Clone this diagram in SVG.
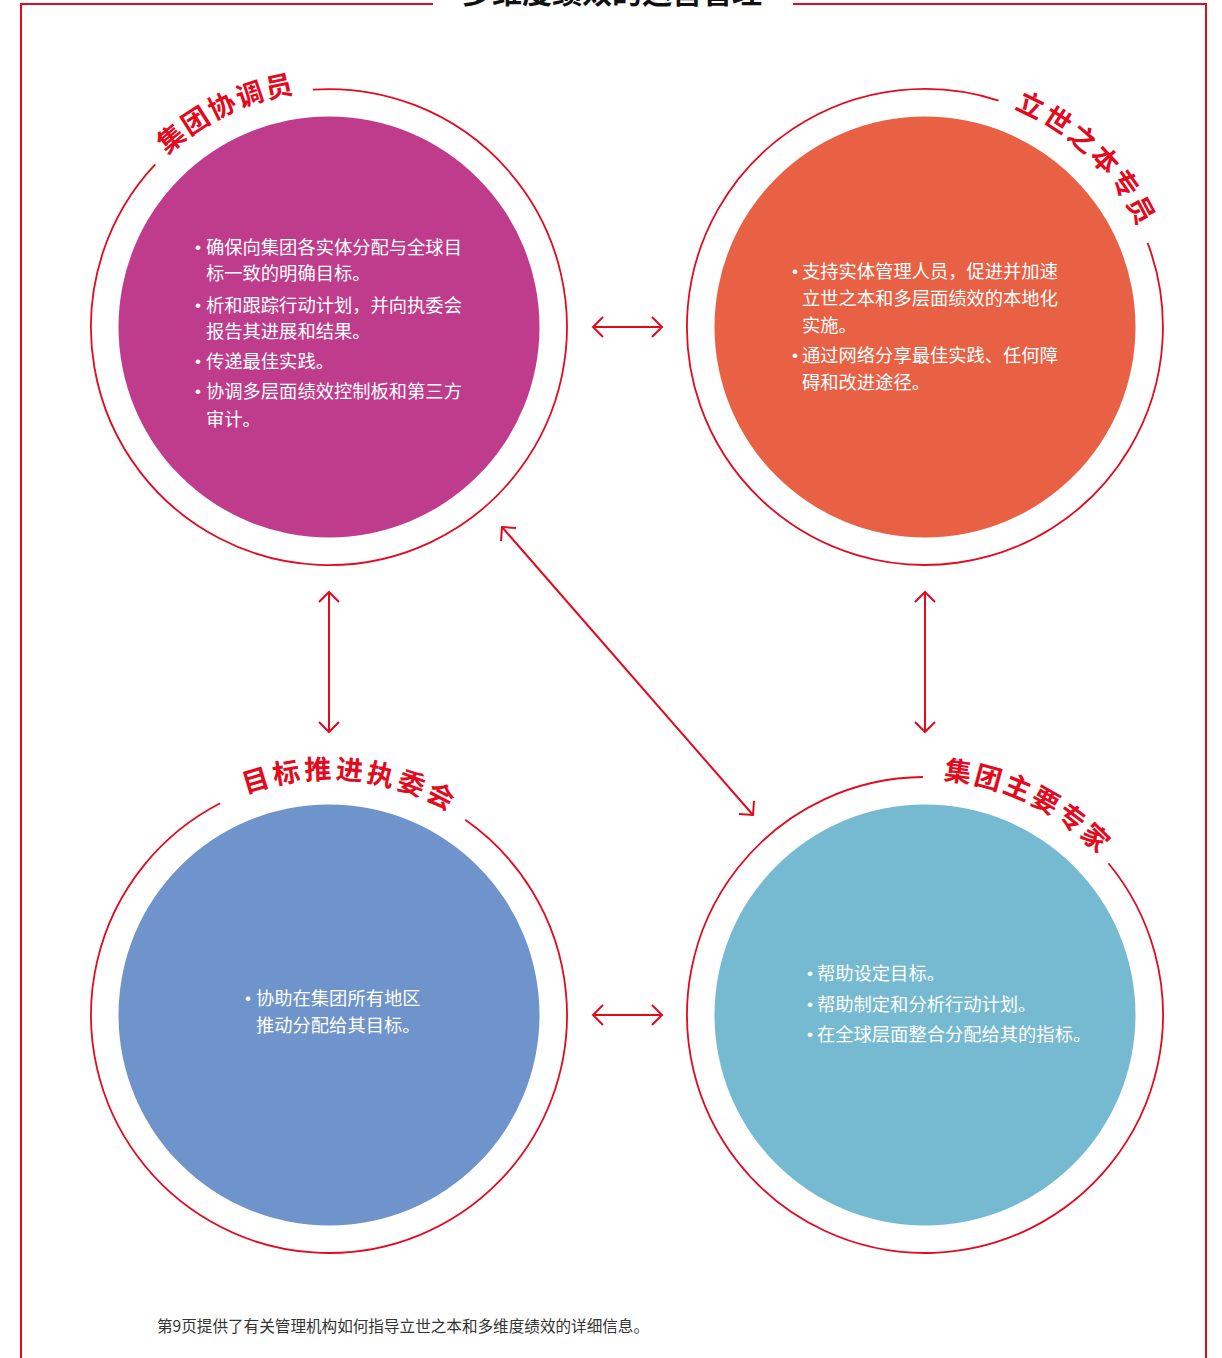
<svg xmlns="http://www.w3.org/2000/svg" width="1222" height="1358" viewBox="0 0 1222 1358">
  <style>
    .frame { stroke: #E30A1E; stroke-width: 2; fill: none; }
    .ring { stroke: #E30A1E; stroke-width: 1.8; fill: none; }
    .conn { stroke: #E30A1E; stroke-width: 2; fill: none; }
    .label { font-family: "Noto Sans CJK SC", "Noto Sans", sans-serif; font-weight: bold; font-size: 27px; fill: #E30A1E; }
    .body { font-family: "Noto Sans CJK SC", "Noto Sans", sans-serif; font-size: 18.3px; fill: #FFFFFF; }
    .bullet { font-family: "Liberation Sans", sans-serif; font-size: 17px; fill: #FFFFFF; }
    .title { font-family: "Noto Sans CJK SC", "Noto Sans", sans-serif; font-weight: bold; font-size: 30px; fill: #111111; }
    .note { font-family: "Noto Sans CJK SC", "Noto Sans", sans-serif; font-size: 15.6px; fill: #333333; }
  </style>
  <defs>
    <marker id="arr" markerUnits="userSpaceOnUse" markerWidth="24" markerHeight="24" refX="12" refY="12" orient="auto-start-reverse" viewBox="0 0 24 24">
      <path d="M 2 2 L 12 12 L 2 22" stroke="#E30A1E" stroke-width="2" fill="none"/>
    </marker>
    <path id="pTL" d="M 93 327 A 236 236 0 0 1 565 327"/>
    <path id="pTR" d="M 689 327 A 236 236 0 0 1 1161 327"/>
    <path id="pBL" d="M 93 1015 A 236 236 0 0 1 565 1015"/>
    <path id="pBR" d="M 689 1015 A 236 236 0 0 1 1161 1015"/>
  </defs>
  <rect width="1222" height="1358" fill="#FFFFFF"/>

  <g id="frame">
    <path class="frame" d="M 433 4 L 21 4 L 21 1358"/>
    <path class="frame" d="M 793 4 L 1206 4 L 1206 1358"/>
    <text class="title" x="612" y="3" text-anchor="middle">多维度绩效的运营管理</text>
  </g>

  <g id="node-coordinator">
    <circle cx="329" cy="327" r="210.5" fill="#BF3C8C"/>
    <path class="ring" d="M 312.8 89.6 A 238 238 0 1 1 155.2 164.4"/>
    <text class="label" letter-spacing="2" text-anchor="middle"><textPath href="#pTL" startOffset="265">集团协调员</textPath></text>
    <text class="bullet" x="198" y="253" text-anchor="middle">•</text>
    <text class="body" x="206" y="254">确保向集团各实体分配与全球目</text>
    <text class="body" x="206" y="280">标一致的明确目标。</text>
    <text class="bullet" x="198" y="311" text-anchor="middle">•</text>
    <text class="body" x="206" y="312">析和跟踪行动计划，并向执委会</text>
    <text class="body" x="206" y="338">报告其进展和结果。</text>
    <text class="bullet" x="198" y="367" text-anchor="middle">•</text>
    <text class="body" x="206" y="368">传递最佳实践。</text>
    <text class="bullet" x="198" y="397" text-anchor="middle">•</text>
    <text class="body" x="206" y="398">协调多层面绩效控制板和第三方</text>
    <text class="body" x="206" y="426">审计。</text>
  </g>

  <g id="node-specialist">
    <circle cx="925" cy="327" r="210.5" fill="#E96145"/>
    <path class="ring" d="M 1147.6 242.9 A 238 238 0 1 1 998.5 100.6"/>
    <text class="label" letter-spacing="2.7" text-anchor="middle"><textPath href="#pTR" startOffset="551">立世之本专员</textPath></text>
    <text class="bullet" x="795" y="277" text-anchor="middle">•</text>
    <text class="body" x="802" y="278">支持实体管理人员，促进并加速</text>
    <text class="body" x="802" y="305">立世之本和多层面绩效的本地化</text>
    <text class="body" x="802" y="332">实施。</text>
    <text class="bullet" x="795" y="361" text-anchor="middle">•</text>
    <text class="body" x="802" y="362">通过网络分享最佳实践、任何障</text>
    <text class="body" x="802" y="389">碍和改进途径。</text>
  </g>

  <g id="node-committee">
    <circle cx="329" cy="1015" r="210.5" fill="#6F93CB"/>
    <path class="ring" d="M 465.2 819.8 A 238 238 0 1 1 220.2 803.3"/>
    <text class="label" letter-spacing="3.5" text-anchor="middle"><textPath href="#pBL" startOffset="392">目标推进执委会</textPath></text>
    <text class="bullet" x="248" y="1004" text-anchor="middle">•</text>
    <text class="body" x="256" y="1005">协助在集团所有地区</text>
    <text class="body" x="256" y="1032">推动分配给其目标。</text>
  </g>

  <g id="node-experts">
    <circle cx="925" cy="1015" r="210.5" fill="#76BAD2"/>
    <path class="ring" d="M 1108.4 863.3 A 238 238 0 1 1 922.9 777"/>
    <text class="label" letter-spacing="2.7" text-anchor="middle"><textPath href="#pBR" startOffset="478">集团主要专家</textPath></text>
    <text class="bullet" x="810" y="979" text-anchor="middle">•</text>
    <text class="body" x="817" y="980">帮助设定目标。</text>
    <text class="bullet" x="810" y="1010" text-anchor="middle">•</text>
    <text class="body" x="817" y="1011">帮助制定和分析行动计划。</text>
    <text class="bullet" x="810" y="1040" text-anchor="middle">•</text>
    <text class="body" x="817" y="1041">在全球层面整合分配给其的指标。</text>
  </g>

  <g id="connectors">
    <line class="conn" x1="593" y1="327" x2="662" y2="327" marker-start="url(#arr)" marker-end="url(#arr)"/>
    <line class="conn" x1="593" y1="1015" x2="662" y2="1015" marker-start="url(#arr)" marker-end="url(#arr)"/>
    <line class="conn" x1="329" y1="592" x2="329" y2="732" marker-start="url(#arr)" marker-end="url(#arr)"/>
    <line class="conn" x1="925" y1="592" x2="925" y2="732" marker-start="url(#arr)" marker-end="url(#arr)"/>
    <line class="conn" x1="502" y1="527" x2="753" y2="815" marker-start="url(#arr)" marker-end="url(#arr)"/>
  </g>

  <text class="note" x="157" y="1332">第9页提供了有关管理机构如何指导立世之本和多维度绩效的详细信息。</text>
</svg>
